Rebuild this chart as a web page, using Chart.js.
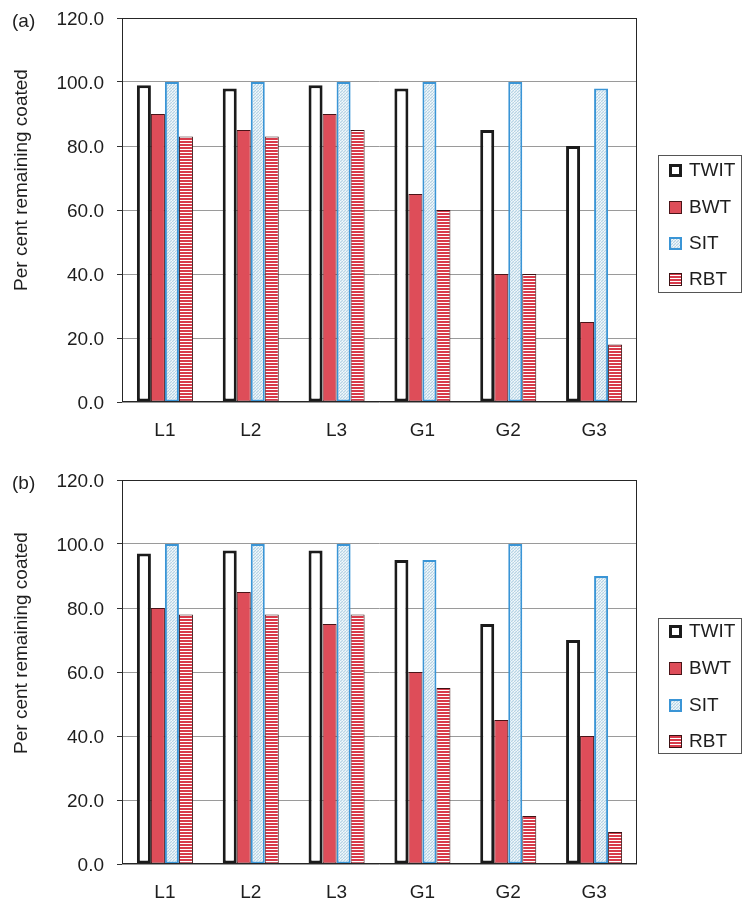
<!DOCTYPE html>
<html>
<head>
<meta charset="utf-8">
<script src="https://cdn.jsdelivr.net/npm/chart.js@4.4.0/dist/chart.umd.min.js"></script>
<style>
  html, body { margin: 0; padding: 0; background: #ffffff; }
  #wrap { position: relative; width: 743px; height: 902px; }
  .panel { position: absolute; left: 0; width: 743px; height: 451px; }
</style>
</head>
<body>
<div id="wrap">
  <div class="panel" style="top:0"><canvas id="chartA"></canvas></div>
  <div class="panel" style="top:451px"><canvas id="chartB"></canvas></div>
</div>
<script>
// Sites and tubing types
const sites = ['L1', 'L2', 'L3', 'G1', 'G2', 'G3'];
const seriesNames = ['TWIT', 'BWT', 'SIT', 'RBT'];
const yTicks = [0, 20, 40, 60, 80, 100, 120];
const yTitle = 'Per cent remaining coated';

// Panel (a)
const twitA = [99, 98, 99, 98, 85, 80];
const bwtA  = [90, 85, 90, 65, 40, 25];
const sitA  = [100, 100, 100, 100, 100, 98];
const rbtA  = [83, 83, 85, 60, 40, 18];

// Panel (b)
const twitB = [97, 98, 98, 95, 75, 70];
const bwtB  = [80, 85, 75, 60, 45, 40];
const sitB  = [100, 100, 100, 95, 100, 90];
const rbtB  = [78, 78, 78, 55, 15, 10];

const FONT = '"Liberation Sans", Arial, Helvetica, sans-serif';
const TEXT = '#1e1e1e';
const RED = '#de4d59';

function makeStripes(ctx) {
  const c = document.createElement('canvas');
  c.width = 4; c.height = 3;
  const g = c.getContext('2d');
  g.fillStyle = '#ffffff'; g.fillRect(0, 0, 4, 3);
  g.fillStyle = '#d83a4a'; g.fillRect(0, 0, 4, 2);
  return ctx.createPattern(c, 'repeat');
}

function makeDots(ctx) {
  const c = document.createElement('canvas');
  c.width = 3; c.height = 3;
  const g = c.getContext('2d');
  g.fillStyle = '#dcebf3'; g.fillRect(0, 0, 3, 3);
  g.fillStyle = '#b7d3e4'; g.fillRect(0, 0, 1, 1); g.fillRect(2, 1, 1, 1); g.fillRect(1, 2, 1, 1);
  g.fillStyle = '#f3f9fc'; g.fillRect(1, 0, 1, 1); g.fillRect(0, 2, 1, 1);
  return ctx.createPattern(c, 'repeat');
}

function buildDatasets(ctx, tw, bw, si, rb) {
  const common = { borderSkipped: false, barPercentage: 1, categoryPercentage: 0.653 };
  return [
    Object.assign({ label: seriesNames[0], data: tw, backgroundColor: '#ffffff', borderColor: '#1b1b1b', borderWidth: 3 }, common),
    Object.assign({ label: seriesNames[1], data: bw, backgroundColor: RED, borderColor: '#4a1418', borderWidth: 1 }, common),
    Object.assign({ label: seriesNames[2], data: si, backgroundColor: makeDots(ctx), borderColor: '#3a95d6', borderWidth: 2 }, common),
    Object.assign({ label: seriesNames[3], data: rb, backgroundColor: makeStripes(ctx), borderColor: '#3d1214', borderWidth: 1 }, common)
  ];
}

// Frame, panel tag, rotated axis title and boxed legend
const panelDecor = {
  id: 'panelDecor',
  afterDraw(chart, args, opts) {
    const { ctx, chartArea: a } = chart;
    ctx.save();

    // plot frame
    ctx.strokeStyle = '#262626';
    ctx.lineWidth = 1;
    ctx.strokeRect(Math.round(a.left) + 0.5, Math.round(a.top) + 0.5,
                   Math.round(a.right - a.left) - 1, Math.round(a.bottom - a.top) - 1);

    // panel tag
    ctx.fillStyle = TEXT;
    ctx.font = '19px ' + FONT;
    ctx.textAlign = 'left';
    ctx.textBaseline = 'middle';
    ctx.fillText(opts.tag, 12, a.top + 4);

    // y-axis title
    ctx.save();
    ctx.translate(22, a.top + opts.titleShift);
    ctx.rotate(-Math.PI / 2);
    ctx.textAlign = 'center';
    ctx.fillText(yTitle, 0, 0);
    ctx.restore();

    // legend
    const L = Math.round(a.right) + 21;
    const T = Math.round(a.top) + opts.legendTop;
    ctx.strokeStyle = '#555555';
    ctx.lineWidth = 1;
    ctx.strokeRect(L + 0.5, T + 0.5, 83, opts.legendHeight);
    chart.data.datasets.forEach((ds, i) => {
      const cy = T + opts.rows[i];
      const x = L + 11, y = Math.round(cy - 6), s = 13;
      ctx.fillStyle = ds.backgroundColor;
      ctx.fillRect(x, y, s, s);
      const bw = ds.borderWidth;
      ctx.strokeStyle = ds.borderColor;
      ctx.lineWidth = bw;
      ctx.strokeRect(x + bw / 2, y + bw / 2, s - bw, s - bw);
      ctx.fillStyle = TEXT;
      ctx.font = '19px ' + FONT;
      ctx.textAlign = 'left';
      ctx.textBaseline = 'middle';
      ctx.fillText(ds.label, L + 31, cy + 1);
    });
    ctx.restore();
  }
};

function makeChart(id, tag, padTop, padBottom, legendTop, legendHeight, rows, titleShift, series) {
  const canvas = document.getElementById(id);
  const ctx = canvas.getContext('2d');
  return new Chart(ctx, {
    type: 'bar',
    data: { labels: sites, datasets: buildDatasets(ctx, ...series) },
    plugins: [panelDecor],
    options: {
      responsive: true,
      maintainAspectRatio: false,
      animation: false,
      events: [],
      layout: { padding: { left: 0, right: 106, top: padTop, bottom: padBottom } },
      plugins: {
        legend: { display: false },
        tooltip: { enabled: false },
        panelDecor: { tag, legendTop, legendHeight, rows, titleShift }
      },
      scales: {
        x: {
          afterFit(s) { s.height = 36; s.paddingLeft = 0; s.paddingRight = 0; },
          grid: { display: false, drawTicks: false },
          border: { display: false },
          ticks: { font: { family: FONT, size: 19 }, color: TEXT, padding: 17, maxRotation: 0 }
        },
        y: {
          min: 0,
          max: 120,
          afterFit(s) { s.width = 122; s.paddingTop = 0; s.paddingBottom = 0; },
          afterBuildTicks(s) { s.ticks = yTicks.map(v => ({ value: v })); },
          grid: { color: '#9a9a9a', lineWidth: 1, tickLength: 5, tickColor: '#333333' },
          border: { display: false },
          ticks: {
            font: { family: FONT, size: 19 }, color: TEXT, padding: 13, labelOffset: 2,
            callback: v => Number(v).toFixed(1)
          }
        }
      }
    }
  });
}

makeChart('chartA', '(a)', 18, 13, 137, 137, [15, 52, 88, 124], 162, [twitA, bwtA, sitA, rbtA]);
makeChart('chartB', '(b)', 29, 2, 138, 135, [13, 50, 87, 123], 163, [twitB, bwtB, sitB, rbtB]);
</script>
</body>
</html>
